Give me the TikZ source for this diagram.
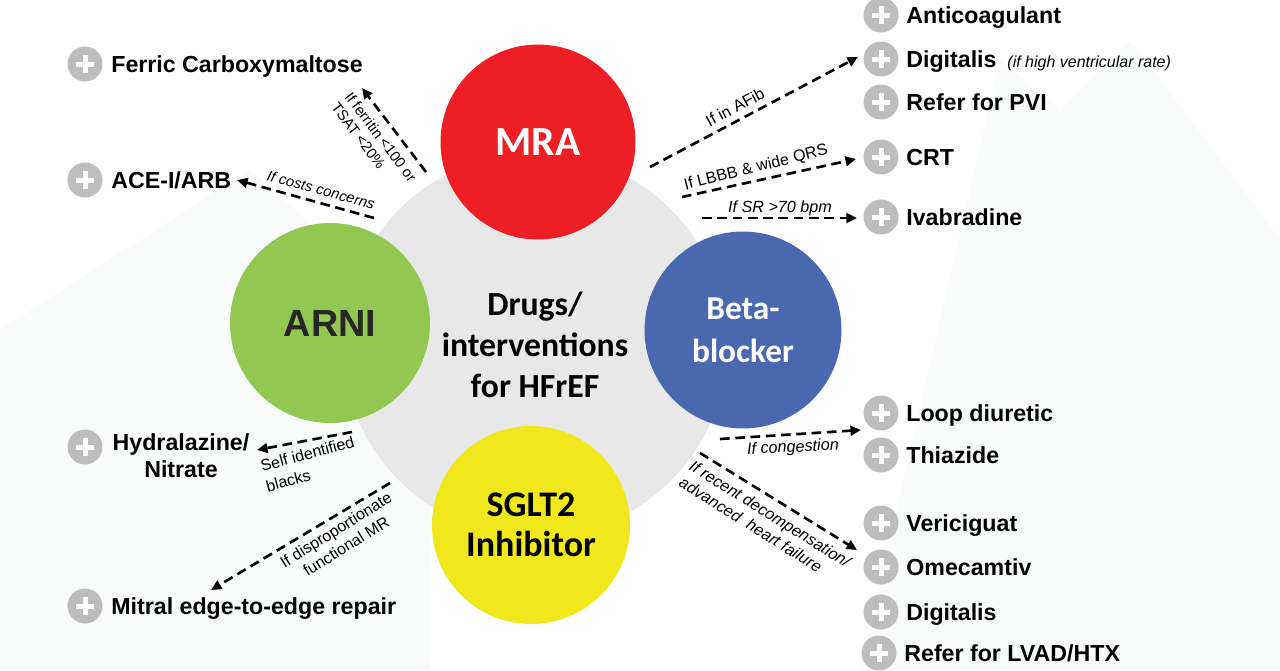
\documentclass[tikz,border=0pt]{standalone}
\usepackage{fontspec}
\setmainfont{Liberation Sans}
\newfontfamily\carlito{Carlito}
\usetikzlibrary{arrows.meta}
\definecolor{hubgray}{HTML}{E8E8E8}
\definecolor{mrared}{HTML}{ED1F24}
\definecolor{arnigreen}{HTML}{92C852}
\definecolor{betablue}{HTML}{4A68B0}
\definecolor{sgltyellow}{HTML}{F0E81C}
\definecolor{plusgray}{HTML}{BDBDBD}
\definecolor{arnitext}{HTML}{262626}
\definecolor{bgfaint}{HTML}{F9FBFB}
\tikzset{
  plusicon/.style={circle, fill=plusgray, minimum size=0.7cm, inner sep=0pt,
    path picture={
      \fill[white] ([xshift=-0.18cm,yshift=-0.05cm]path picture bounding box.center) rectangle ([xshift=0.18cm,yshift=0.05cm]path picture bounding box.center);
      \fill[white] ([xshift=-0.05cm,yshift=-0.18cm]path picture bounding box.center) rectangle ([xshift=0.05cm,yshift=0.18cm]path picture bounding box.center);
    }},
  item/.style={anchor=base west, inner sep=0pt, font=\fontsize{13.2}{15.3}\selectfont\bfseries},
  conn/.style={line width=1.5pt, dash pattern=on 5.5pt off 3.2pt, -{Triangle[length=6pt,width=5.5pt]}},
  lbl/.style={inner sep=0pt, font=\fontsize{9.2}{11}\selectfont},
  lblsm/.style={inner sep=0pt, font=\fontsize{8.4}{9.6}\selectfont},
  hub/.style={circle, inner sep=0pt},
}
\begin{document}
\begin{tikzpicture}[x=0.02cm,y=-0.02cm]
\useasboundingbox (0,0) rectangle (1280,670);
\fill[white] (0,0) rectangle (1280,670);
% faint background mountains
\fill[bgfaint] (0,670) -- (0,330) -- (250,170) -- (430,330) -- (430,670) -- cycle;
\fill[bgfaint] (860,670) -- (1000,60) -- (1060,110) -- (1130,40) -- (1280,240) -- (1280,670) -- cycle;

% central hub and drug circles
\node[hub, fill=hubgray, minimum size=7.68cm, align=center,
      font=\carlito\bfseries\fontsize{19.2}{23.2}\selectfont] (center) at (535,345)
      {Drugs/\\interventions\\for HFrEF};
\node[hub, fill=mrared, minimum size=3.9cm, text=white,
      font=\carlito\bfseries\fontsize{23.6}{28}\selectfont] (mra) at (538,142) {MRA};
\node[hub, fill=arnigreen, minimum size=4cm, text=arnitext,
      font=\bfseries\fontsize{21.5}{25}\selectfont] (arni) at (330,323) {ARNI};
\node[hub, fill=betablue, minimum size=3.94cm, text=white, align=center,
      font=\carlito\bfseries\fontsize{19}{24.4}\selectfont] (beta) at (743,330) {Beta-\\blocker};
\node[hub, fill=sgltyellow, minimum size=3.96cm, align=center,
      font=\carlito\bfseries\fontsize{20.5}{22.7}\selectfont] (sglt) at (531,525) {SGLT2\\Inhibitor};

% left items
\node[plusicon] (iFer) at (85,64) {};
\node[item] (tFer) at (111,72) {Ferric Carboxymaltose};
\node[plusicon] (iAce) at (85,180) {};
\node[item] (tAce) at (111,188) {ACE-I/ARB};
\node[plusicon] (iHyd) at (85,447) {};
\node[inner sep=0pt, align=center, font=\fontsize{13.2}{15.3}\selectfont\bfseries] (tHyd) at (181,456) {Hydralazine/\\Nitrate};
\node[plusicon] (iMit) at (85,606) {};
\node[item] (tMit) at (111,614) {Mitral edge-to-edge repair};

% right items
\node[plusicon] (iAnt) at (881,15) {};
\node[item] (tAnt) at (906,23) {Anticoagulant};
\node[plusicon] (iDig) at (881,59) {};
\node[item] (tDig) at (906,67) {Digitalis \fontsize{9.1}{11}\selectfont\mdseries\itshape\ (if high ventricular rate)};
\node[plusicon] (iPvi) at (881,102) {};
\node[item] (tPvi) at (906,110) {Refer for PVI};
\node[plusicon] (iCrt) at (881,157) {};
\node[item] (tCrt) at (906,165) {CRT};
\node[plusicon] (iIva) at (881,217) {};
\node[item] (tIva) at (906,225) {Ivabradine};
\node[plusicon] (iLoop) at (881,413) {};
\node[item] (tLoop) at (906,421) {Loop diuretic};
\node[plusicon] (iThi) at (881,455) {};
\node[item] (tThi) at (906,463) {Thiazide};
\node[plusicon] (iVer) at (881,523) {};
\node[item] (tVer) at (906,531) {Vericiguat};
\node[plusicon] (iOme) at (881,567) {};
\node[item] (tOme) at (906,575) {Omecamtiv};
\node[plusicon] (iDig2) at (881,612) {};
\node[item] (tDig2) at (906,620) {Digitalis};
\node[plusicon] (iLvad) at (879,653) {};
\node[item] (tLvad) at (904,661) {Refer for LVAD/HTX};

% connector end points
\coordinate (sFer) at (426,172);  \coordinate (eFer) at (362,88);
\coordinate (sAce) at (374,218);  \coordinate (eAce) at (237,180);
\coordinate (sAf)  at (650,167);  \coordinate (eAf)  at (858,57);
\coordinate (sLb)  at (682,197);  \coordinate (eLb)  at (856,159);
\coordinate (sSr)  at (702,218);  \coordinate (eSr)  at (857,218);
\coordinate (sCg)  at (720,439);  \coordinate (eCg)  at (861,430);
\coordinate (sDc)  at (700,453);  \coordinate (eDc)  at (857,550);
\coordinate (sHy)  at (352,432);  \coordinate (eHy)  at (257,450);
\coordinate (sMi)  at (390,483);  \coordinate (eMi)  at (211,590);

\draw[conn] (sFer) -- (eFer);
\draw[conn] (sAce) -- (eAce);
\draw[conn] (sAf) -- (eAf);
\draw[conn] (sLb) -- (eLb);
\draw[conn] (sSr) -- (eSr);
\draw[conn] (sCg) -- (eCg);
\draw[conn] (sDc) -- (eDc);
\draw[conn] (sHy) -- (eHy);
\draw[conn] (sMi) -- (eMi);

% labels
\node[lblsm, rotate=-53, align=left] (lFer) at (374,142) {If ferritin <100 or\\TSAT <20\%};
\node[lblsm, rotate=-15, font=\fontsize{8.4}{9.6}\selectfont\itshape] (lAce) at (321,190) {If costs concerns};
\node[lbl, rotate=28] (lAf) at (735,107) {If in AFib};
\node[lbl, rotate=14] (lLb) at (756,168) {If LBBB \& wide QRS};
\node[lbl, font=\fontsize{9.2}{11}\selectfont\itshape] (lSr) at (780,208) {If SR >70 bpm};
\node[lbl, rotate=3, font=\fontsize{9.2}{11}\selectfont\itshape] (lCg) at (793,448) {If congestion};
\node[lbl, rotate=-32, align=left, font=\fontsize{9.2}{11}\selectfont\itshape] (lDc) at (765,522) {If recent decompensation/\\advanced\ \ heart failure};
\node[lbl, rotate=15, align=left, font=\fontsize{9.1}{12}\selectfont] (lHy) at (310,464) {Self identified\\blacks};
\node[lbl, rotate=32, align=center, font=\fontsize{9.1}{11}\selectfont] (lMi) at (341,538) {If disproportionate\\functional MR};
\end{tikzpicture}
\end{document}
